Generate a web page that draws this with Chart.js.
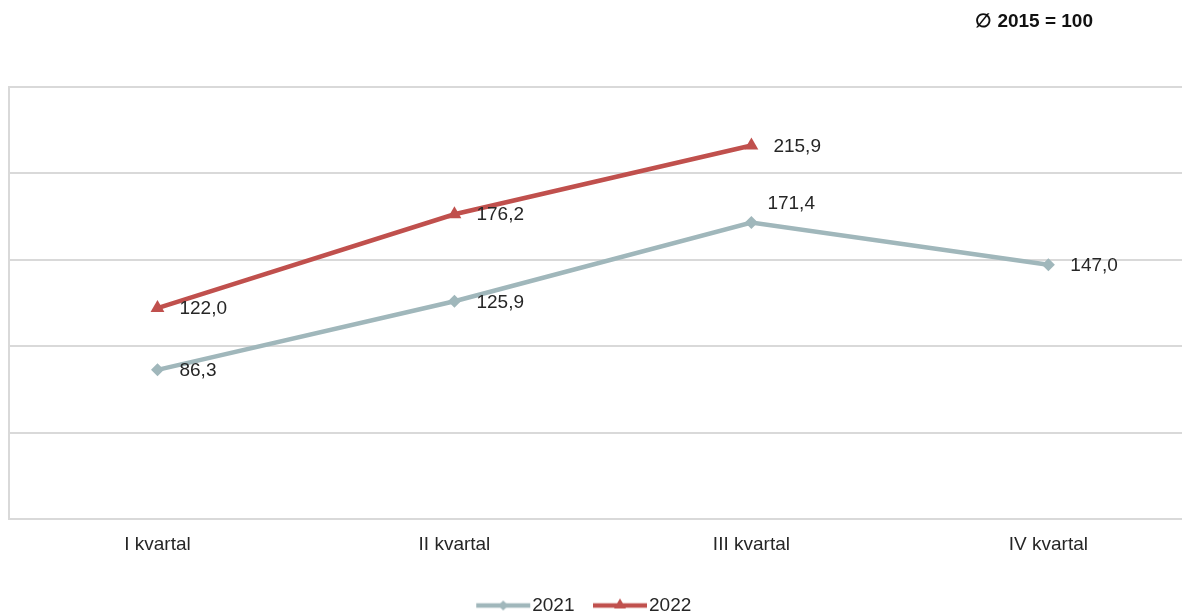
<!DOCTYPE html>
<html>
<head>
<meta charset="utf-8">
<script src="https://cdn.jsdelivr.net/npm/chart.js@4"></script>
<style>
  html, body { margin: 0; padding: 0; background: #fff; overflow: hidden; }
  #wrap { width: 1182px; height: 613px; position: relative; }
</style>
</head>
<body>
<div id="wrap"><canvas id="canvas"></canvas></div>
<script>
var categories = ['I kvartal', 'II kvartal', 'III kvartal', 'IV kvartal'];
var seriesNames = ['2021', '2022'];
var values2021 = [86.3, 125.9, 171.4, 147.0];
var values2022 = [122.0, 176.2, 215.9, null];
var yTicks = [0, 50, 100, 150, 200, 250];
var baseNote = '\u2205 2015 = 100';

var grey = '#a0b7bb',
    red = '#c0504d',
    textColor = '#262626',
    gridColor = '#d9d9d9';

Chart.defaults.font.family = "'Liberation Sans', Arial, sans-serif";
Chart.defaults.font.size = 19;
Chart.defaults.color = textColor;

function toPoints(values) {
    var arr = [];
    values.forEach(function(v, i) {
        if (v !== null) arr.push({ x: i, y: v });
    });
    return arr;
}

function fmt(v) {
    return v.toFixed(1).replace('.', ',');
}

// legend sample: line with marker in the middle
function legendIcon(color, style) {
    var c = document.createElement('canvas');
    c.width = 72;
    c.height = 18;
    var g = c.getContext('2d');
    g.strokeStyle = color;
    g.fillStyle = color;
    g.lineWidth = 4.5;
    g.beginPath();
    g.moveTo(17, 9);
    g.lineTo(71, 9);
    g.stroke();
    g.beginPath();
    if (style === 'rectRot') {
        g.moveTo(44, 4); g.lineTo(49, 9); g.lineTo(44, 14); g.lineTo(39, 9);
    } else {
        g.moveTo(44, 2); g.lineTo(50, 12); g.lineTo(38, 12);
    }
    g.closePath();
    g.fill();
    return c;
}
var icons = [legendIcon(grey, 'rectRot'), legendIcon(red, 'triangle')];

// where the value label sits relative to its point
var labelPlace = [['right', 'right', 'above', 'right'], ['right', 'right', 'right', 'right']];

var valueLabels = {
    id: 'valueLabels',
    afterDatasetsDraw: function(chart) {
        var ctx = chart.ctx;
        ctx.save();
        ctx.font = "19px 'Liberation Sans', Arial, sans-serif";
        ctx.fillStyle = textColor;
        ctx.textBaseline = 'middle';
        ctx.textAlign = 'left';
        chart.data.datasets.forEach(function(ds, di) {
            var meta = chart.getDatasetMeta(di);
            meta.data.forEach(function(pt, i) {
                var v = ds.data[i].y;
                var place = labelPlace[di][ds.data[i].x];
                if (place === 'above') {
                    ctx.fillText(fmt(v), pt.x + 16, pt.y - 19);
                } else {
                    ctx.fillText(fmt(v), pt.x + 22, pt.y + 1);
                }
            });
        });
        ctx.restore();
    }
};

var noteAndLegend = {
    id: 'noteAndLegend',
    afterLayout: function(chart) {
        var lg = chart.legend;
        lg.top += 24; lg.bottom += 24;
        lg.left -= 16; lg.right -= 16;
    },
    afterDraw: function(chart) {
        var ctx = chart.ctx;
        ctx.save();
        ctx.font = "bold 19px 'Liberation Sans', Arial, sans-serif";
        ctx.fillStyle = '#111';
        ctx.textAlign = 'right';
        ctx.textBaseline = 'middle';
        ctx.fillText(baseNote, 1093, 22);
        ctx.restore();
    }
};

var ctx = document.getElementById('canvas').getContext('2d');
var chart = new Chart(ctx, {
    type: 'line',
    data: {
        datasets: [{
            label: seriesNames[0],
            data: toPoints(values2021),
            borderColor: grey,
            backgroundColor: grey,
            borderWidth: 4.5,
            pointStyle: 'rectRot',
            pointRadius: 6.5,
            pointBorderWidth: 0,
            tension: 0
        }, {
            label: seriesNames[1],
            data: toPoints(values2022),
            borderColor: red,
            backgroundColor: red,
            borderWidth: 4.5,
            pointStyle: 'triangle',
            pointRadius: 8,
            pointBorderWidth: 0,
            tension: 0
        }]
    },
    options: {
        responsive: true,
        maintainAspectRatio: false,
        animation: false,
        events: [],
        layout: { autoPadding: false, padding: { top: 86.5, left: 9, right: 0, bottom: 12 } },
        scales: {
            x: {
                type: 'linear',
                min: -0.5,
                max: 3.45,
                grid: { display: false },
                border: { display: true, color: gridColor, width: 2 },
                afterBuildTicks: function(scale) {
                    scale.ticks = categories.map(function(c, i) { return { value: i }; });
                },
                ticks: {
                    padding: 6,
                    maxRotation: 0,
                    autoSkip: false,
                    color: textColor,
                    callback: function(v) { return categories[v]; }
                }
            },
            y: {
                min: yTicks[0],
                max: yTicks[yTicks.length - 1],
                afterBuildTicks: function(scale) {
                    scale.ticks = yTicks.map(function(t) { return { value: t }; });
                },
                ticks: { display: false },
                grid: { color: gridColor, lineWidth: 2, drawTicks: false },
                border: { display: true, color: gridColor, width: 2 }
            }
        },
        plugins: {
            title: { display: false },
            tooltip: { enabled: false },
            legend: {
                position: 'bottom',
                labels: {
                    usePointStyle: true,
                    pointStyleWidth: 55,
                    padding: 10,
                    color: textColor,
                    font: { size: 19 },
                    generateLabels: function(chart) {
                        var items = Chart.defaults.plugins.legend.labels.generateLabels(chart);
                        items.forEach(function(it, i) { it.pointStyle = icons[i]; });
                        return items;
                    }
                }
            }
        }
    },
    plugins: [valueLabels, noteAndLegend]
});
</script>
</body>
</html>
